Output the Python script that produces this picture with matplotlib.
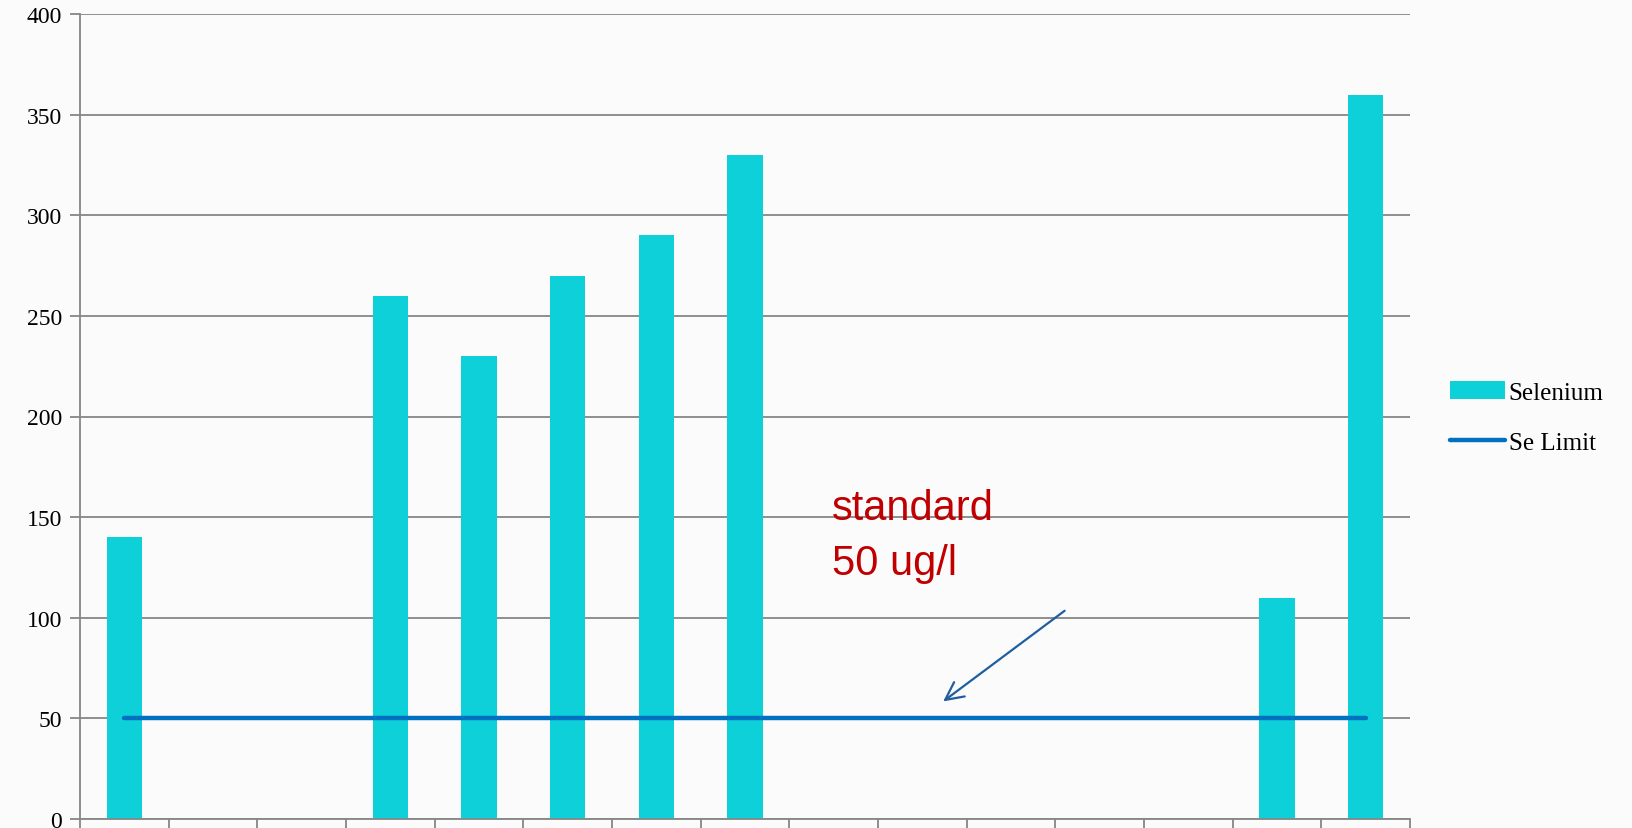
"""Selenium por ponto de coleta, com o limite padrão de 50 ug/l."""

import matplotlib.pyplot as plt
import numpy as np

# dados (15 pontos, sem rótulos no eixo x)
selenium = [140, 0, 0, 260, 230, 270, 290, 330, 0, 0, 0, 0, 0, 110, 360]
se_limit = 50
y_ticks = [0, 50, 100, 150, 200, 250, 300, 350, 400]

BAR_COLOR = "#0dd0d9"
LINE_COLOR = "#0070c0"
GRID_COLOR = "#868686"

fig = plt.figure(figsize=(16.32, 8.29), dpi=100, facecolor="#fbfbfb")
ax = fig.add_axes([80 / 1632, 9 / 829, 1330 / 1632, 805 / 829])
ax.set_facecolor("none")

x = np.arange(len(selenium))
bars = ax.bar(x, selenium, width=0.4, color=BAR_COLOR, label="Selenium", zorder=2)
line, = ax.plot(x, [se_limit] * len(x), color=LINE_COLOR, lw=3.2, solid_capstyle="round",
                label="Se Limit", zorder=3)

ax.set_xlim(-0.5, len(x) - 0.5)
ax.set_ylim(0, 400)
ax.set_yticks(y_ticks)
ax.set_yticklabels([str(v) for v in y_ticks], family="Liberation Serif", fontsize=17)
ax.set_xticks(np.arange(len(x) + 1) - 0.5)
ax.set_xticklabels([])
ax.tick_params(axis="both", direction="out", length=7, width=1.3, color=GRID_COLOR, pad=6)
ax.yaxis.grid(True, color=GRID_COLOR, lw=1.3, zorder=0)
ax.set_axisbelow(True)
for side in ("top", "right"):
    ax.spines[side].set_visible(False)
for side in ("left", "bottom"):
    ax.spines[side].set_color(GRID_COLOR)
    ax.spines[side].set_linewidth(1.3)

# anotação do padrão
ax.text(7.98, 149, "standard", color="#c00000", fontsize=30, family="Liberation Sans")
ax.text(7.98, 121.7, "50 ug/l", color="#c00000", fontsize=30, family="Liberation Sans")
ax.annotate("", xy=(9.21, 57.6), xytext=(10.63, 104.3),
            arrowprops=dict(arrowstyle="->", color="#1f5fa0", lw=1.6, mutation_scale=32))

fig.legend([bars, line], ["Selenium", "Se Limit"], loc="center left",
           bbox_to_anchor=(1450 / 1632, 0.495), frameon=False,
           prop={"family": "Liberation Serif", "size": 18}, handlelength=2.2,
           handletextpad=0.15, labelspacing=1.1, borderpad=0, borderaxespad=0)

fig.savefig("out.png", dpi=100, facecolor=fig.get_facecolor())
